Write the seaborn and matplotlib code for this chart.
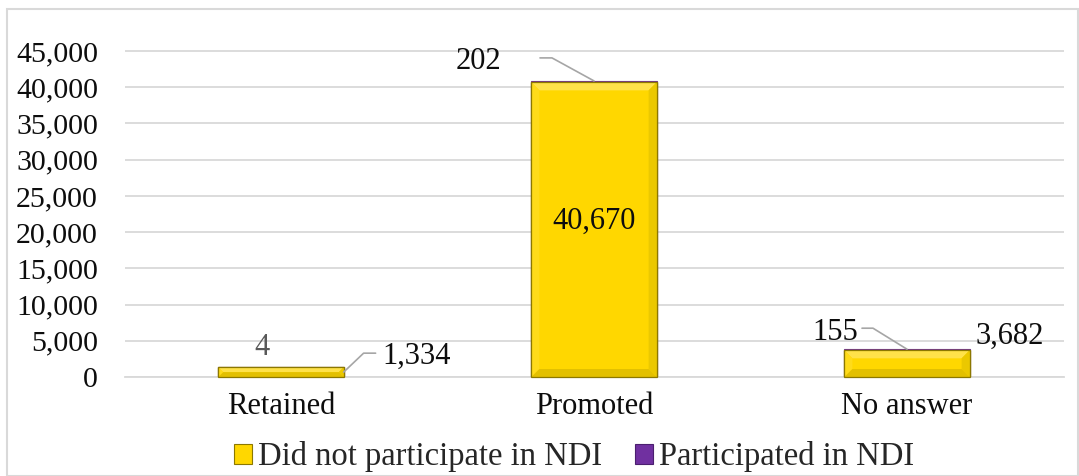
import matplotlib
matplotlib.use("Agg")
import matplotlib.pyplot as plt
import seaborn as sns
import pandas as pd
from matplotlib.lines import Line2D
from matplotlib.patches import Rectangle, Polygon
from matplotlib.transforms import IdentityTransform

# Data
categories = ["Retained", "Promoted", "No answer"]
not_participated = [1334, 40670, 3682]
participated = [4, 202, 155]
series_names = ["Did not participate in NDI", "Participated in NDI"]
y_ticks = [0, 5000, 10000, 15000, 20000, 25000, 30000, 35000, 40000, 45000]

gold = "#FFD700"
gold_edge = "#8C7800"
purple = "#7030A0"
grid_gray = "#D9D9D9"
text_color = "#0D0D0D"

sns.set_theme(style="white")
plt.rcParams["font.family"] = ["Liberation Serif", "DejaVu Serif"]

W, H = 1079, 476
fig = plt.figure(figsize=(W / 100, H / 100), dpi=100)
ax = fig.add_axes([124.5 / W, (H - 377) / H, (1063.5 - 124.5) / W, (377 - 20) / H])

df = pd.DataFrame({
    "category": categories,
    "total": [a + b for a, b in zip(not_participated, participated)],
    "no": not_participated,
})

# Stacked bars: full total in purple underneath, gold segment on top of it
sns.barplot(data=df, x="category", y="total", color=purple, width=0.4,
            saturation=1, ax=ax, edgecolor=purple, linewidth=0.8, zorder=2)
n_purple = len(ax.patches)
sns.barplot(data=df, x="category", y="no", color=gold, width=0.4,
            saturation=1, ax=ax, edgecolor=gold_edge, linewidth=0.9, zorder=3)
gold_bars = ax.patches[n_purple:]

ymax = 45000 * 357 / 326
ax.set_ylim(0, ymax)
ax.set_xlim(-0.5, 2.5)
ax.set_yticks(y_ticks)
ax.set_yticklabels([f"{v:,}" for v in y_ticks])
ax.set_xlabel("")
ax.set_ylabel("")
ax.grid(axis="y", color=grid_gray, linewidth=1.3, zorder=0)
ax.set_axisbelow(True)
for side in ["top", "right", "left"]:
    ax.spines[side].set_visible(False)
ax.spines["bottom"].set_color(grid_gray)
ax.spines["bottom"].set_linewidth(1.3)
ax.tick_params(axis="y", length=0, pad=19, labelsize=21.5, labelcolor=text_color)
ax.tick_params(axis="x", length=0, pad=11, labelsize=22, labelcolor=text_color)

# Soft bevel on the gold bars
for bar in gold_bars:
    (x0, y0), (x1, y1) = ax.transData.transform(
        [(bar.get_x(), bar.get_y()), (bar.get_x() + bar.get_width(), bar.get_y() + bar.get_height())])
    b = min(8, (y1 - y0) / 2, (x1 - x0) / 2)
    faces = [
        ([(x0, y1), (x1, y1), (x1 - b, y1 - b), (x0 + b, y1 - b)], "#FFE24A"),
        ([(x0, y0), (x0, y1), (x0 + b, y1 - b), (x0 + b, y0 + b)], "#FFDB1A"),
        ([(x1, y0), (x1, y1), (x1 - b, y1 - b), (x1 - b, y0 + b)], "#EBC800"),
        ([(x0, y0), (x1, y0), (x1 - b, y0 + b), (x0 + b, y0 + b)], "#E3C000"),
    ]
    for pts, c in faces:
        fig.add_artist(Polygon(pts, closed=True, transform=IdentityTransform(),
                               facecolor=c, edgecolor="none", zorder=1.5))
    fig.add_artist(Rectangle((x0, y0), x1 - x0, y1 - y0, transform=IdentityTransform(),
                             fill=False, edgecolor=gold_edge, linewidth=0.9, zorder=1.6))


def px(xd, yd):
    return ax.transData.transform((xd, yd))


def leader(xd, yd, offsets):
    x0, y0 = px(xd, yd)
    xs = [x0 + dx for dx, dy in offsets]
    ys = [y0 + dy for dx, dy in offsets]
    fig.add_artist(Line2D(xs, ys, transform=IdentityTransform(),
                          color="#A6A6A6", linewidth=1.2, zorder=5))


def label(text, xd, yd, dx, dy, ha="center", color=text_color):
    ax.annotate(text, xy=(xd, yd), xytext=(dx, dy), textcoords="offset pixels",
                ha=ha, va="center", fontsize=22, color=color, zorder=6)


half = 0.2
tot = df["total"].tolist()

# Retained
label(f"{participated[0]:,}", 0, tot[0], -19, 20, color="#595959")
leader(0 + half, not_participated[0] / 2, [(0, 0), (20, 19), (32, 19)])
label(f"{not_participated[0]:,}", 0 + half, not_participated[0] / 2, 39, 16, ha="left")

# Promoted
leader(1, tot[1], [(0, 0), (-42, 23), (-54, 23)])
label(f"{participated[1]:,}", 1, tot[1], -116, 19)
label(f"{not_participated[1]:,}", 1, not_participated[1] / 2, 0, 8)

# No answer
leader(2, tot[2], [(0, 0), (-34, 21), (-45, 21)])
label(f"{participated[2]:,}", 2, tot[2], -72, 17)
label(f"{not_participated[2]:,}", 2, tot[2], 103, 13)

# Legend
handles = [Rectangle((0, 0), 1, 1, facecolor=gold, edgecolor=gold_edge, linewidth=0.8),
           Rectangle((0, 0), 1, 1, facecolor=purple, edgecolor="#4B1F6F", linewidth=0.8)]
fig.legend(handles, series_names, loc="center", bbox_to_anchor=(574 / W, 1 - 457 / H),
           ncol=2, frameon=False, fontsize=23.5, handlelength=0.55, handleheight=0.55,
           handletextpad=0.2, columnspacing=1.0, borderaxespad=0)

# Chart border
fig.add_artist(Rectangle((7 / W, 0), 1 - 8 / W, 1 - 9 / H, transform=fig.transFigure,
                         fill=False, edgecolor=grid_gray, linewidth=1.5))

fig.savefig("out.png", dpi=100)
